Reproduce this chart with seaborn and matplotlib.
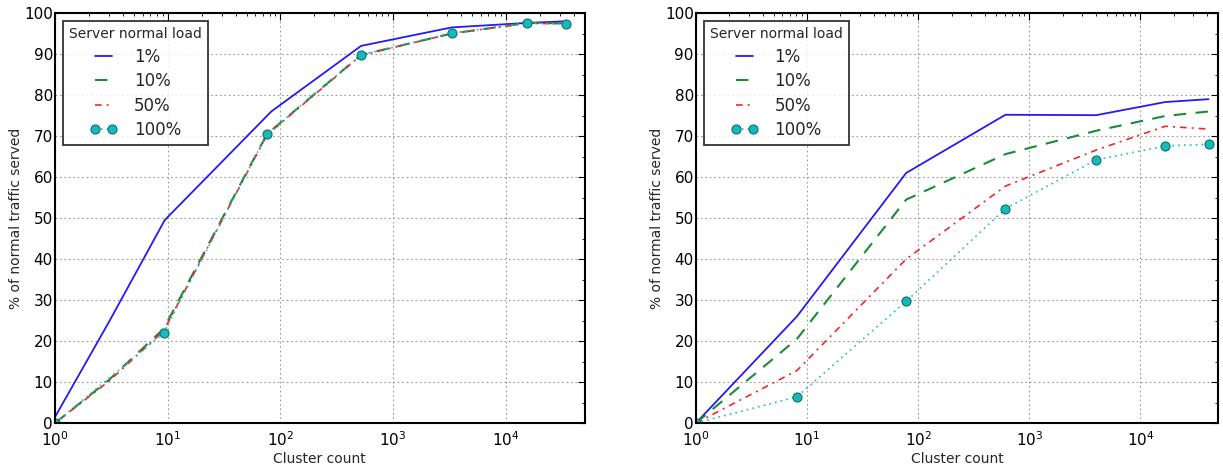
import numpy as np
import pandas as pd
import matplotlib
matplotlib.use("Agg")
import matplotlib.pyplot as plt
import seaborn as sns
from matplotlib.ticker import LogLocator, MultipleLocator

# ---------------- data ----------------
series_labels = ["1%", "10%", "50%", "100%"]

# left panel
left_x_blue = [1, 3, 9.4, 83, 520, 3300, 15400, 34000]
left_y_blue = [1.5, 24.6, 49.5, 76.0, 92.0, 96.5, 97.6, 98.0]
left_x = [1, 3, 9.2, 76, 520, 3300, 15400, 34000]
left_y_10 = [0.0, 10.5, 23.0, 70.5, 89.8, 95.0, 97.6, 97.5]
left_y_50 = [0.0, 10.2, 22.5, 70.3, 89.7, 95.0, 97.5, 97.4]
left_x_100 = [1, 9.2, 76, 520, 3300, 15400, 34000]
left_y_100 = [0.0, 22.0, 70.5, 89.8, 95.1, 97.6, 97.3]

# right panel
right_x = [1, 8.1, 78, 610, 4000, 16700, 41000]
right_y_1 = [0.0, 26.0, 61.0, 75.2, 75.1, 78.3, 79.0]
right_y_10 = [0.0, 20.5, 54.5, 65.6, 71.3, 74.9, 76.0]
right_y_50 = [0.0, 12.8, 40.0, 57.8, 66.6, 72.4, 71.7]
right_y_100 = [0.0, 6.4, 29.7, 52.3, 64.2, 67.6, 68.0]

x_label = "Cluster count"
y_label = "% of normal traffic served"
legend_title = "Server normal load"

# ---------------- style ----------------
sns.set_style("white")
plt.rcParams["font.family"] = ["DejaVu Sans"]

fig = plt.figure(figsize=(12.23, 4.67), dpi=100)
axL = fig.add_axes([0.045, 0.094, 0.433, 0.878])
axR = fig.add_axes([0.569, 0.094, 0.427, 0.878])

styles = {
    "1%": dict(color=(0.15, 0.1, 0.95), linestyle="-", lw=1.3),
    "10%": dict(color=(0.1, 0.55, 0.2), linestyle=(0, (6, 4.5)), lw=1.5),
    "50%": dict(color=(0.95, 0.15, 0.15), linestyle=(0, (4, 3, 1.2, 3)), lw=1.2),
    "100%": dict(color=(0.1, 0.75, 0.75), linestyle=(0, (1, 2.5)), lw=1.2,
                 marker="o", markersize=6.5, markerfacecolor=(0.1, 0.72, 0.72),
                 markeredgecolor=(0.0, 0.45, 0.45), markeredgewidth=0.8),
}


def draw(ax, data):
    for label, xs, ys in data:
        df = pd.DataFrame({"x": xs, "y": ys})
        sns.lineplot(data=df, x="x", y="y", ax=ax, label=label,
                     estimator=None, sort=False, **styles[label])
    ax.set_xscale("log")
    ax.set_xlim(1, 50000)
    ax.set_ylim(0, 100)
    ax.yaxis.set_major_locator(MultipleLocator(10))
    ax.yaxis.set_minor_locator(MultipleLocator(5))
    ax.xaxis.set_major_locator(LogLocator(base=10, numticks=10))
    ax.xaxis.set_minor_locator(LogLocator(base=10, subs=np.arange(2, 10), numticks=20))
    ax.grid(True, which="major", linestyle=(0, (1.5, 2.5)), color="#999999", lw=0.8)
    ax.tick_params(which="both", direction="in", top=True, right=True,
                   labelsize=11, colors="black")
    ax.tick_params(axis="x", pad=5)
    ax.tick_params(axis="y", pad=1.5)
    ax.tick_params(which="major", length=5, width=0.8)
    ax.tick_params(which="minor", length=2.5, width=0.6)
    for s in ax.spines.values():
        s.set_color("black")
        s.set_linewidth(1.5)
    ax.set_xlabel(x_label, fontsize=10, labelpad=2)
    ax.set_ylabel(y_label, fontsize=10, labelpad=0.5)
    leg = ax.legend(title=legend_title, loc="upper left", fontsize=12,
                    title_fontsize=10, frameon=True, fancybox=False,
                    handlelength=1.6, handletextpad=1.0, numpoints=2,
                    borderpad=0.35, labelspacing=0.39, borderaxespad=0.5)
    leg.get_frame().set_edgecolor("black")
    leg.get_frame().set_linewidth(1.3)


draw(axL, [("1%", left_x_blue, left_y_blue),
           ("10%", left_x, left_y_10),
           ("50%", left_x, left_y_50),
           ("100%", left_x_100, left_y_100)])
draw(axR, [("1%", right_x, right_y_1),
           ("10%", right_x, right_y_10),
           ("50%", right_x, right_y_50),
           ("100%", right_x, right_y_100)])

fig.savefig("out.png", dpi=100, facecolor="white")
